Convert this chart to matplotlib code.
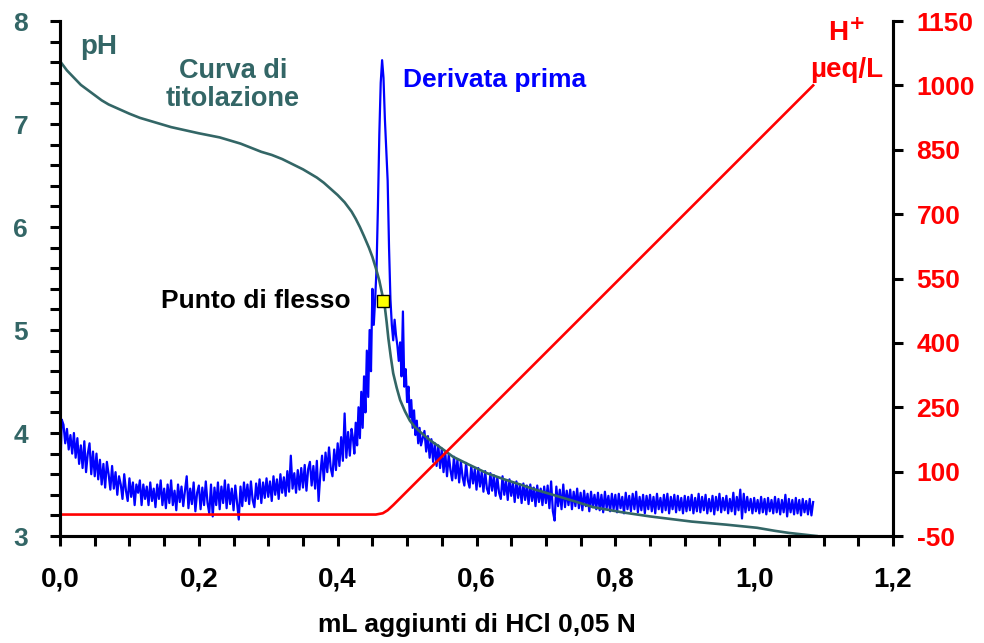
import numpy as np
import matplotlib.pyplot as plt
from matplotlib.ticker import FuncFormatter, MultipleLocator, FixedLocator

plt.rcParams['font.family'] = ['Liberation Sans', 'DejaVu Sans']
plt.rcParams['font.weight'] = 'bold'
plt.rcParams['axes.unicode_minus'] = False

PH_COLOR = "#336666"

# titration curve (pH vs mL of HCl)
titr_ml = [0.0, 0.01, 0.02, 0.03, 0.04, 0.05, 0.06, 0.07, 0.08, 0.09, 0.10,
           0.115, 0.13, 0.145, 0.16, 0.18, 0.20, 0.215, 0.23, 0.245, 0.26,
           0.275, 0.29, 0.305, 0.32, 0.335, 0.35, 0.36, 0.37, 0.38, 0.39,
           0.40, 0.41, 0.42, 0.426, 0.432, 0.438, 0.445, 0.45, 0.455, 0.46,
           0.465, 0.468, 0.4705, 0.473, 0.4765, 0.48, 0.485, 0.49, 0.497,
           0.504, 0.511, 0.519, 0.526, 0.533, 0.55, 0.566, 0.59, 0.615, 0.64,
           0.663, 0.685, 0.71, 0.74, 0.768, 0.81, 0.85, 0.88, 0.91, 0.96,
           1.004, 1.03, 1.05, 1.07, 1.09]
titr_ph = [7.61, 7.52, 7.45, 7.38, 7.33, 7.28, 7.23, 7.19, 7.16, 7.13, 7.10,
           7.06, 7.03, 7.00, 6.97, 6.94, 6.91, 6.89, 6.87, 6.84, 6.81,
           6.77, 6.73, 6.70, 6.66, 6.61, 6.56, 6.52, 6.48, 6.43, 6.37,
           6.31, 6.24, 6.15, 6.08, 6.00, 5.91, 5.80, 5.71, 5.60, 5.48,
           5.32, 5.22, 5.08, 4.92, 4.74, 4.58, 4.44, 4.32, 4.21,
           4.12, 4.06, 4.01, 3.97, 3.93, 3.85, 3.77, 3.69, 3.61, 3.55,
           3.50, 3.45, 3.40, 3.34, 3.28, 3.23, 3.19, 3.165, 3.14, 3.11,
           3.08, 3.05, 3.03, 3.015, 3.00]

# first derivative: 0.000-0.420 mL every 0.0025
deriv_a = [3.52, 4.13, 4.08, 3.90, 4.04, 3.84, 3.98, 3.80, 4.00, 3.76,
           3.95, 3.70, 3.88, 3.66, 3.92, 3.62, 3.80, 3.90, 3.60, 3.82,
           3.58, 3.80, 3.55, 3.74, 3.50, 3.70, 3.47, 3.72, 3.60, 3.45,
           3.68, 3.46, 3.62, 3.40, 3.58, 3.50, 3.36, 3.60, 3.44, 3.34,
           3.56, 3.38, 3.52, 3.30, 3.50, 3.42, 3.54, 3.30, 3.50, 3.36,
           3.48, 3.30, 3.52, 3.34, 3.46, 3.28, 3.50, 3.36, 3.54, 3.30,
           3.46, 3.27, 3.50, 3.32, 3.54, 3.30, 3.44, 3.25, 3.50, 3.33,
           3.48, 3.29, 3.44, 3.58, 3.27, 3.46, 3.31, 3.52, 3.24, 3.42,
           3.49, 3.26, 3.47, 3.30, 3.53, 3.32, 3.22, 3.50, 3.19, 3.47,
           3.30, 3.52, 3.26, 3.48, 3.32, 3.54, 3.27, 3.50, 3.31, 3.46,
           3.25, 3.49, 3.32, 3.16, 3.48, 3.29, 3.52, 3.34, 3.50, 3.31,
           3.53, 3.35, 3.28, 3.51, 3.36, 3.55, 3.32, 3.52, 3.37, 3.56,
           3.38, 3.53, 3.34, 3.58, 3.40, 3.55, 3.36, 3.60, 3.42, 3.57,
           3.39, 3.63, 3.43, 3.78, 3.46, 3.61, 3.42, 3.64, 3.45, 3.66,
           3.47, 3.69, 3.44, 3.65, 3.72, 3.49, 3.68, 3.46, 3.73, 3.34,
           3.60, 3.78, 3.54, 3.81, 3.62, 3.86, 3.66, 3.58, 3.84, 3.64,
           3.90, 3.68, 3.96, 3.73, 4.19, 3.76, 4.01, 3.78, 4.04]
# 0.422-0.520 mL every 0.002 (the peak)
deriv_b = [3.95, 3.80, 4.10, 3.88, 4.25, 3.95, 4.40, 4.05, 4.55, 4.20,
           4.80, 4.35, 5.00, 4.60, 5.40, 5.05, 5.30, 5.60, 6.20, 6.90,
           7.40, 7.62, 7.45, 7.05, 6.75, 6.45, 5.80, 5.30, 5.05, 4.90,
           5.10, 4.95, 4.85, 4.70, 4.88, 4.55, 5.18, 4.45, 4.62, 4.30,
           4.45, 4.15, 4.32, 4.05, 4.22, 3.98, 4.12, 3.90, 4.05, 3.88]
# 0.525-1.085 mL every 0.0025
deriv_c = [4.02, 3.82, 3.97, 3.76, 3.94, 3.72, 3.90, 3.68, 3.88, 3.66,
           3.85, 3.62, 3.81, 3.58, 3.79, 3.64, 3.54, 3.77, 3.56, 3.74,
           3.52, 3.72, 3.57, 3.49, 3.71, 3.54, 3.47, 3.68, 3.51, 3.65,
           3.45, 3.66, 3.48, 3.62, 3.43, 3.63, 3.46, 3.41, 3.61, 3.44,
           3.59, 3.39, 3.57, 3.42, 3.36, 3.58, 3.40, 3.54, 3.35, 3.55,
           3.39, 3.52, 3.33, 3.53, 3.37, 3.50, 3.32, 3.51, 3.35, 3.49,
           3.31, 3.50, 3.34, 3.47, 3.29, 3.49, 3.33, 3.46, 3.30, 3.48,
           3.32, 3.49, 3.27, 3.53, 3.24, 3.15, 3.48, 3.29, 3.45, 3.26,
           3.50, 3.28, 3.44, 3.30, 3.45, 3.26, 3.43, 3.29, 3.46, 3.27,
           3.42, 3.25, 3.44, 3.29, 3.41, 3.24, 3.43, 3.28, 3.40, 3.26,
           3.42, 3.25, 3.40, 3.23, 3.43, 3.27, 3.39, 3.24, 3.41, 3.26,
           3.40, 3.23, 3.41, 3.27, 3.38, 3.22, 3.42, 3.26, 3.39, 3.24,
           3.41, 3.26, 3.43, 3.23, 3.38, 3.25, 3.40, 3.22, 3.39, 3.26,
           3.40, 3.24, 3.38, 3.22, 3.41, 3.26, 3.37, 3.23, 3.40, 3.25,
           3.41, 3.22, 3.38, 3.26, 3.40, 3.23, 3.39, 3.25, 3.37, 3.22,
           3.39, 3.24, 3.38, 3.25, 3.40, 3.22, 3.37, 3.24, 3.41, 3.23,
           3.38, 3.25, 3.40, 3.22, 3.36, 3.24, 3.39, 3.21, 3.38, 3.25,
           3.41, 3.23, 3.37, 3.25, 3.39, 3.22, 3.36, 3.24, 3.42, 3.21,
           3.38, 3.25, 3.45, 3.17, 3.41, 3.23, 3.38, 3.25, 3.36, 3.22,
           3.37, 3.24, 3.35, 3.22, 3.38, 3.23, 3.36, 3.21, 3.37, 3.24,
           3.35, 3.22, 3.38, 3.23, 3.36, 3.21, 3.35, 3.23, 3.40, 3.19,
           3.36, 3.23, 3.35, 3.21, 3.37, 3.22, 3.35, 3.20, 3.36, 3.23,
           3.34, 3.21, 3.36, 3.20, 3.33]

# free H+ (µeq/L)
h_ml = [0.0, 0.455, 0.465, 0.472, 0.48, 1.085]
h_ueq = [0, 0, 3, 10, 22, 1000]

# inflection point
flex_ml, flex_ph = 0.465, 5.28

deriv_ml = np.concatenate([np.linspace(0.0, 0.42, len(deriv_a)),
                           np.linspace(0.422, 0.52, len(deriv_b)),
                           np.linspace(0.525, 1.085, len(deriv_c))])
deriv_val = np.concatenate([deriv_a, deriv_b, deriv_c])

fig = plt.figure(figsize=(9.84, 6.43), dpi=100)
ax = fig.add_axes([0.061, 0.1664, 0.8465, 0.8009])
ax2 = ax.twinx()

ax.plot(deriv_ml, deriv_val, color="#0000FF", lw=1.6, zorder=2)
ax.plot(titr_ml, titr_ph, color=PH_COLOR, lw=1.9, zorder=3)
ax.plot([flex_ml], [flex_ph], 's', ms=8, mfc="#FFFF00", mec="black",
        mew=1.0, zorder=5)
ax2.plot(h_ml, h_ueq, color="#FF0000", lw=1.9)

ax.set_xlim(0, 1.2)
ax.set_ylim(3, 8)
ax2.set_ylim(-50, 1150)

for a in (ax, ax2):
    a.spines['top'].set_visible(False)
    for s in a.spines.values():
        s.set_linewidth(2.2)

ax.xaxis.set_major_locator(MultipleLocator(0.2))
ax.xaxis.set_minor_locator(MultipleLocator(0.05))
ax.xaxis.set_major_formatter(FuncFormatter(lambda v, p: f"{v:.1f}".replace('.', ',')))
ax.yaxis.set_major_locator(MultipleLocator(1))
ax.yaxis.set_minor_locator(MultipleLocator(0.2))
ax2.yaxis.set_major_locator(FixedLocator(np.arange(-50, 1151, 150)))

ax.tick_params(axis='x', which='both', direction='out', length=7, width=2.2,
               labelsize=20, pad=15, colors='black')
ax.tick_params(axis='y', which='both', direction='out', length=7, width=2.2,
               labelsize=19, pad=16, labelcolor=PH_COLOR)
ax2.tick_params(axis='y', direction='out', length=7, width=2.2, labelsize=19,
                pad=10, labelcolor="#FF0000")

ax.set_xlabel("mL aggiunti di HCl 0,05 N", fontsize=19, fontweight='bold',
              labelpad=15)

ax.text(0.029, 7.75, "pH", color=PH_COLOR, fontsize=20, ha='left', va='center')
ax.text(0.249, 7.38, "Curva di\ntitolazione", color=PH_COLOR, fontsize=19.5,
        ha='center', va='center', linespacing=1.1)
ax.text(0.494, 7.43, "Derivata prima", color="#0000FF", fontsize=19,
        ha='left', va='center')
ax.text(0.418, 5.28, "Punto di flesso", color="black", fontsize=19,
        ha='right', va='center')
ax.text(1.133, 7.88, "H$^{\\mathbf{+}}$", color="#FF0000", fontsize=20,
        ha='center', va='center')
ax.text(1.133, 7.52, "µeq/L", color="#FF0000", fontsize=20,
        ha='center', va='center')

fig.savefig("out.png", dpi=100)
